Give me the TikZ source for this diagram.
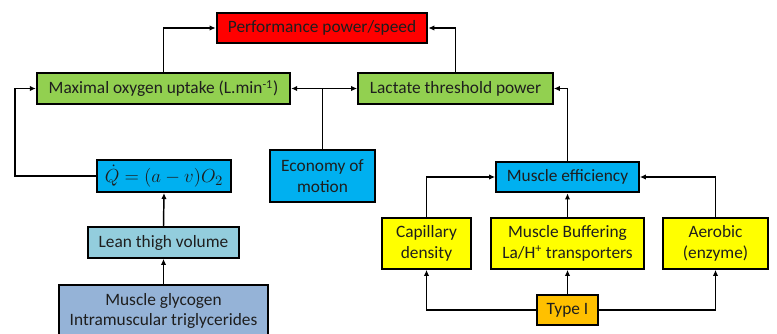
\documentclass[tikz,border=0pt]{standalone}
\usepackage{amsmath}
\usepackage{graphicx}
\usepackage{fontspec}
\setmainfont{Carlito}
\usetikzlibrary{arrows.meta}
\definecolor{perfred}{HTML}{FF0000}
\definecolor{uptakegreen}{HTML}{92D050}
\definecolor{effblue}{HTML}{00B0F0}
\definecolor{leanblue}{HTML}{93CDDD}
\definecolor{glycblue}{HTML}{95B3D7}
\definecolor{fibreyellow}{HTML}{FFFF00}
\definecolor{typeorange}{HTML}{FFC000}
\definecolor{boxtext}{HTML}{1E1E1E}

\begin{document}
\begin{tikzpicture}[x=0.75pt, y=-0.75pt,
	box/.style={draw, line width=1.5pt, inner sep=0pt, align=center, text=boxtext, font=\fontsize{13}{15.5}\selectfont},
	link/.style={line width=1.1pt, -{Latex[length=4.5pt,width=4pt]}}]
	\clip (0,0) rectangle (777,333);

	% top row
	\node[box, fill=perfred, minimum width=158pt, minimum height=23pt] (perf) at (322,28) {Performance power/speed};
	\node[box, fill=uptakegreen, minimum width=190pt, minimum height=23pt] (maxo) at (163.5,88.5) {Maximal oxygen uptake (L.min\textsuperscript{-1})};
	\node[box, fill=uptakegreen, minimum width=146pt, minimum height=23pt] (lact) at (455.5,88.5) {Lactate threshold power};

	% left branch
	\node[box, fill=effblue, minimum width=100pt, minimum height=24pt] (qdot) at (164,176) {\scalebox{1.18}{$\dot{Q} = (a - v)O_2$}};
	\node[box, fill=effblue, minimum width=79pt, minimum height=39pt] (econ) at (322.5,176) {Economy of\\motion};
	\node[box, fill=leanblue, minimum width=113pt, minimum height=23pt] (lean) at (163.5,242.5) {Lean thigh volume};
	\node[box, fill=glycblue, minimum width=157pt, minimum height=39pt] (glyc) at (163.5,311) {Muscle glycogen\\Intramuscular triglycerides};
	\coordinate (qbend) at (15,176);

	% right branch
	\node[box, fill=effblue, minimum width=107pt, minimum height=23pt] (eff) at (567.5,177) {Muscle efficiency};
	\node[box, fill=fibreyellow, minimum width=67pt, minimum height=38pt] (cap) at (426.5,243.5) {Capillary\\density};
	\node[box, fill=fibreyellow, minimum width=115pt, minimum height=38pt] (buf) at (567.5,243.5) {Muscle Buffering\\La/H\textsuperscript{+} transporters};
	\node[box, fill=fibreyellow, minimum width=79pt, minimum height=38pt] (aer) at (715.5,243.5) {Aerobic\\(enzyme)};
	\node[box, fill=typeorange, minimum width=46pt, minimum height=23pt] (type) at (567.5,310) {Type I};

	\draw[link] (maxo.north) |- (perf.west);
	\draw[link] (lact.north) |- (perf.east);
	\draw[link] (econ.north) |- (maxo.east);
	\draw[link] (econ.north) |- (lact.west);
	\draw[link] (qdot.west) -- (qbend) |- (maxo.west);
	\draw[link] (lean.north) -- (qdot.south);
	\draw[link] (glyc.north) -- (lean.south);

	\draw[link] (eff.north) |- (lact.east);
	\draw[link] (cap.north) |- (eff.west);
	\draw[link] (aer.north) |- (eff.east);
	\draw[link] (buf.north) -- (eff.south);
	\draw[link] (type.north) -- (buf.south);
	\draw[link] (type.west) -| (cap.south);
	\draw[link] (type.east) -| (aer.south);
\end{tikzpicture}
\end{document}
